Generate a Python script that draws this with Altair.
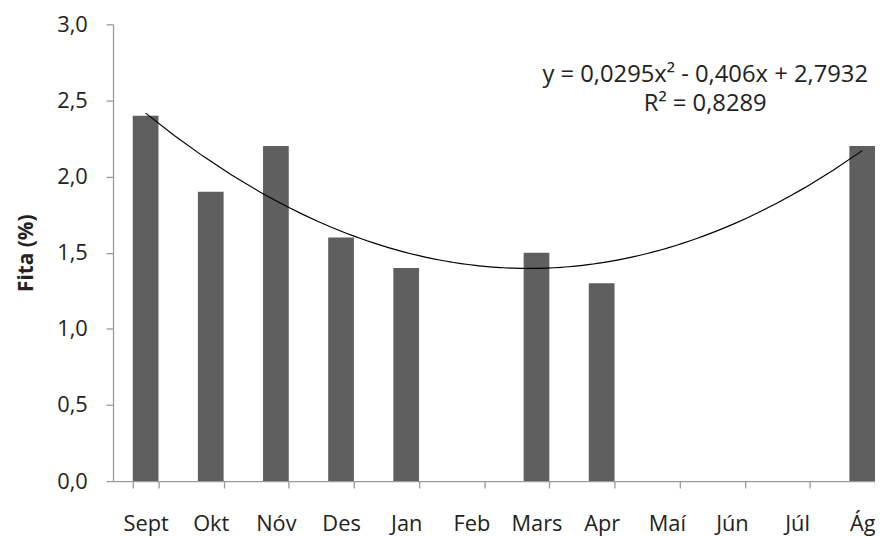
import altair as alt
import pandas as pd

# ---- data ----
months = ["Sept", "Okt", "Nóv", "Des", "Jan", "Feb", "Mars", "Apr", "Maí", "Jún", "Júl", "Ág"]
month_index = [1, 2, 3, 4, 5, 6, 7, 8, 9, 10, 11, 12]
fita = [2.4, 1.9, 2.2, 1.6, 1.4, None, 1.5, 1.3, None, None, None, 2.2]
y_ticks = [0.0, 0.5, 1.0, 1.5, 2.0, 2.5, 3.0]
eq_lines = ["y = 0,0295x² - 0,406x + 2,7932", "R² = 0,8289"]

df = pd.DataFrame({"month": months, "idx": month_index, "fita": fita})

FONT = "Open Sans"
TEXT = "#222222"
AXIS = "#9a9a9a"
RANGE = [0, 789]

bars = alt.Chart(df).mark_bar(color="#5f5f5f").encode(
    x=alt.X(
        "month:N",
        scale=alt.Scale(domain=months, paddingInner=0.605, paddingOuter=0.3025, range=RANGE),
        axis=alt.Axis(
            title=None, labelAngle=0, tickBand="extent", tickSize=7,
            labelPadding=26, labelFontSize=22,
        ),
    ),
    y=alt.Y(
        "fita:Q",
        scale=alt.Scale(domain=[0, 3], nice=False),
        axis=alt.Axis(
            values=y_ticks,
            labelExpr="replace(format(datum.value, '.1f'), '.', ',')",
            title="Fita (%)", titleFontWeight="bold", titleFontSize=21,
            titlePadding=20, tickSize=7, labelPadding=19, labelFontSize=22,
            grid=False,
        ),
    ),
)

annot = alt.Chart(pd.DataFrame({"k": [0]})).mark_text(
    text=eq_lines, font=FONT, fontSize=24, color=TEXT, align="center",
    baseline="middle", lineHeight=29, dx=-27,
).encode(x=alt.datum("Jún"), y=alt.datum(2.668))

trend = alt.Chart(df).transform_regression(
    "idx", "fita", method="poly", order=2, extent=[1, 12]
).mark_line(color="black", strokeWidth=1.2).encode(
    x=alt.X("idx:Q", scale=alt.Scale(domain=[0.5, 12.5], range=RANGE, nice=False, zero=False), axis=None),
    y=alt.Y("fita:Q"),
)

chart = (
    alt.layer(alt.layer(bars, annot), trend)
    .resolve_scale(x="independent")
    .properties(
        width=769, height=461,
        autosize=alt.AutoSizeParams(type="none"),
        padding={"left": 106, "top": 14, "right": 0, "bottom": 54},
        background="white",
    )
    .configure_view(stroke=None)
    .configure_axis(
        labelFont=FONT, titleFont=FONT, labelColor=TEXT, titleColor=TEXT,
        domainColor=AXIS, tickColor=AXIS, domainWidth=1.3, tickWidth=1.3,
    )
)

chart.save("out.html", embed_options={"renderer": "svg", "actions": False})
